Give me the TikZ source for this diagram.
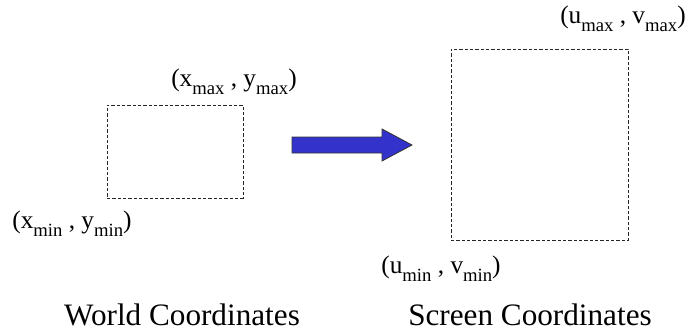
\documentclass[tikz,border=0pt]{standalone}
\usepackage{fontspec}
\setmainfont{Liberation Serif}
\newcommand{\lsub}[1]{\raisebox{-0.3em}{\fontsize{14pt}{15pt}\selectfont #1}}
\begin{document}
\begin{tikzpicture}[x=0.75pt,y=-0.75pt,
  region/.style={draw=black!85, line width=0.6pt, dash pattern=on 2.4pt off 1.6pt, inner sep=0pt},
  corner/.style={font=\fontsize{19pt}{21pt}\selectfont, inner sep=0pt},
  caption/.style={font=\fontsize{23.4pt}{26pt}\selectfont, inner sep=0pt, anchor=base}]
\useasboundingbox (0,0) rectangle (689,333);
\definecolor{arrowblue}{RGB}{51,51,204}

% world window and screen viewport
\node[region, minimum width=102pt, minimum height=69.75pt] (world) at (175,151.5) {};
\node[region, minimum width=132.75pt, minimum height=143.25pt] (screen) at (539.5,144.5) {};

% corner labels
\node[corner] (wmax) at (234,82) {(x\lsub{max} , y\lsub{max})};
\node[corner] (wmin) at (72,224) {(x\lsub{min} , y\lsub{min})};
\node[corner] (smax) at (623,19) {(u\lsub{max} , v\lsub{max})};
\node[corner] (smin) at (441,269) {(u\lsub{min} , v\lsub{min})};

% block arrow between the two views
\draw[fill=arrowblue, draw=black!80, line width=0.6pt]
  (292,137) -- (382,137) -- (382,129) -- (412,145) -- (382,161) -- (382,153) -- (292,153) -- cycle;

% captions
\node[caption] (wcap) at (182,325) {World Coordinates};
\node[caption] (scap) at (530,325) {Screen Coordinates};
\end{tikzpicture}
\end{document}
